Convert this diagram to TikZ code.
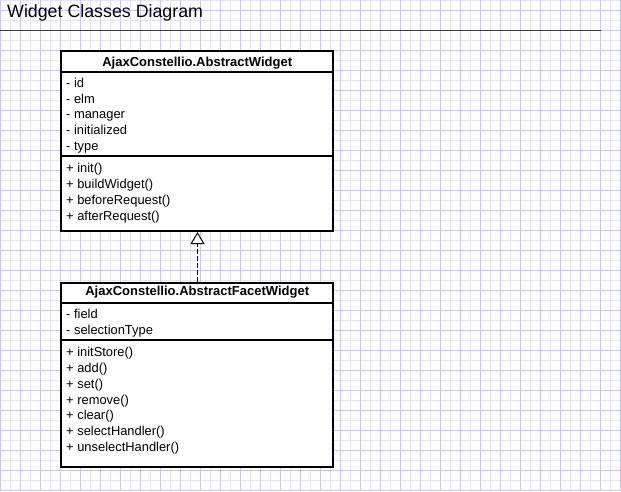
\documentclass[tikz,border=0pt]{standalone}
\usepackage{fontspec}
\setmainfont{Liberation Sans}
\usetikzlibrary{arrows.meta}
\definecolor{gridmajor}{RGB}{198,198,250}
\definecolor{gridminor}{RGB}{228,228,250}
\definecolor{rulegray}{RGB}{60,60,60}
\tikzset{
  minorline/.style={draw=gridminor, line width=1pt},
  majorline/.style={draw=gridmajor, line width=1pt},
  classbox/.style={draw=black, fill=white, line width=2pt, inner sep=0pt, rectangle},
  divider/.style={draw=black, line width=2pt},
  member/.style={anchor=base west, inner sep=0pt, font=\fontsize{12.9}{15}\selectfont},
  classname/.style={anchor=base, inner sep=0pt, font=\fontsize{13}{15}\selectfont\bfseries},
  inherit/.style={line width=1pt, dash pattern=on 5pt off 2pt, -{Triangle[open, length=12pt, width=14pt, fill=white, line width=1pt]}},
}
\begin{document}
\begin{tikzpicture}[x=1pt, y=-1pt]
\useasboundingbox (0,0) rectangle (621,491);
\fill[white] (0,0) rectangle (621,491);
% grid (pixel-aligned)
\foreach \x in {10.5,30.5,...,610.5} \draw[minorline] (\x,0) -- (\x,491);
\foreach \y in {0.5,20.5,...,480.5} \draw[minorline] (0,\y) -- (621,\y);
\foreach \x in {0.5,20.5,...,620.5} \draw[majorline] (\x,0) -- (\x,491);
\foreach \y in {10.5,30.5,...,490.5} \draw[majorline] (0,\y) -- (621,\y);
% title
\node[anchor=base west, inner sep=0pt, font=\fontsize{17.8}{20}\selectfont] (title) at (7,17.3) {Widget Classes Diagram};
\coordinate (ruleL) at (0,30.5);
\coordinate (ruleR) at (601,30.5);
\draw[rulegray, line width=1pt] (ruleL) -- (ruleR);
% class 1
\node[classbox, minimum width=272pt, minimum height=180pt] (w1) at (197,141) {};
\draw[divider] (61,72) -- (333,72);
\draw[divider] (61,156) -- (333,156);
\node[classname] (w1name) at (197.25,66.7) {AjaxConstellio.AbstractWidget};
\node[member] (a1) at (66,87.3) {- id};
\node[member] (a2) at (66,103.1) {- elm};
\node[member] (a3) at (66,118.9) {- manager};
\node[member] (a4) at (66,134.7) {- initialized};
\node[member] (a5) at (66,150.5) {- type};
\node[member] (m1) at (66,172.3) {+ init()};
\node[member] (m2) at (66,188.3) {+ buildWidget()};
\node[member] (m3) at (66,204.3) {+ beforeRequest()};
\node[member] (m4) at (66,220.3) {+ afterRequest()};
% class 2
\node[classbox, minimum width=272pt, minimum height=184pt] (w2) at (197,375) {};
\draw[divider] (61,303) -- (333,303);
\draw[divider] (61,340) -- (333,340);
\node[classname] (w2name) at (197.25,295.7) {AjaxConstellio.AbstractFacetWidget};
\node[member] (b1) at (66,318.3) {- field};
\node[member] (b2) at (66,334.3) {- selectionType};
\node[member] (n1) at (66,356.7) {+ initStore()};
\node[member] (n2) at (66,372.5) {+ add()};
\node[member] (n3) at (66,388.3) {+ set()};
\node[member] (n4) at (66,404.1) {+ remove()};
\node[member] (n5) at (66,419.9) {+ clear()};
\node[member] (n6) at (66,435.7) {+ selectHandler()};
\node[member] (n7) at (66,451.5) {+ unselectHandler()};
% generalization
\coordinate (g2) at ([xshift=0.5pt]w2.north);
\coordinate (g1) at ([xshift=0.5pt]w1.south);
\draw[inherit] (g2) -- (g1);
\end{tikzpicture}
\end{document}
